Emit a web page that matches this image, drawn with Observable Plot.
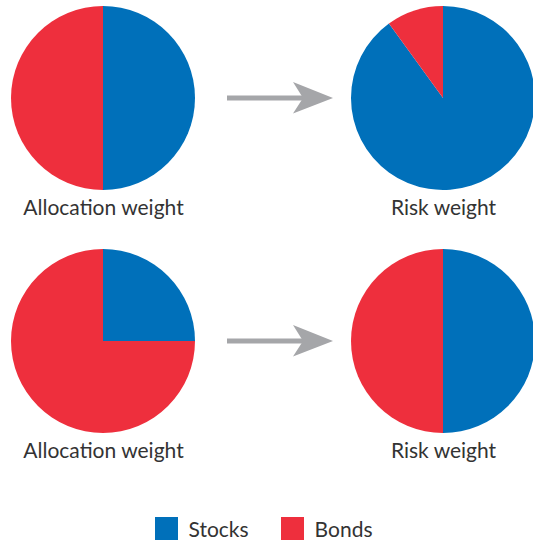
<!DOCTYPE html>
<html>
<head>
<meta charset="utf-8">
<script src="https://cdn.jsdelivr.net/npm/d3@7"></script>
<script src="https://cdn.jsdelivr.net/npm/@observablehq/plot@0.6"></script>
<style>
  html, body { margin: 0; padding: 0; background: #fff; }
  #chart { width: 533px; font-family: "Source Sans Pro", Lato, sans-serif; }
</style>
</head>
<body>
<div id="chart"></div>
<script>
const categories = ["Stocks", "Bonds"];
const colors = ["#0070ba", "#ee2f3d"];
const panelLabels = ["Allocation weight", "Risk weight", "Allocation weight", "Risk weight"];
const panelColumn = ["Allocation", "Risk", "Allocation", "Risk"];
const panelRow = ["Top", "Top", "Bottom", "Bottom"];
const stockWeights = [50, 90, 25, 50];
const bondWeights = [50, 10, 75, 50];
const arrowRows = ["Top", "Bottom"];

const panels = panelLabels.map((label, i) => ({
  label, col: panelColumn[i], row: panelRow[i], values: [stockWeights[i], bondWeights[i]]
}));

const radius = 92;
const font = "Lato, sans-serif";

function pieMark(index, scales) {
  const g = d3.create("svg:g");
  const pie = d3.pie().sort(null).value(d => d);
  const arc = d3.arc().innerRadius(0).outerRadius(radius);
  for (const p of panels) {
    const cx = scales.x(p.col), cy = scales.y(p.row);
    const gg = g.append("g").attr("transform", `translate(${cx},${cy})`);
    pie(p.values).forEach((a, j) => {
      if (a.endAngle - a.startAngle <= 0) return;
      gg.append("path").attr("d", arc(a)).attr("fill", colors[j]);
    });
  }
  return g.node();
}

function arrowMark(index, scales) {
  const g = d3.create("svg:g").attr("fill", "#a5a6a9");
  const x0 = scales.x("Allocation") + 124;
  const tip = scales.x("Risk") - 110;
  for (const r of arrowRows) {
    const y = scales.y(r);
    const back = tip - 40, notch = tip - 30;
    g.append("rect").attr("x", x0).attr("y", y - 2.5).attr("width", notch - x0 + 1).attr("height", 5);
    g.append("path").attr("d", `M${tip},${y}L${back},${y - 16}L${notch},${y}L${back},${y + 15.5}Z`);
  }
  return g.node();
}

const plot = Plot.plot({
  width: 533,
  height: 505,
  margin: 0,
  style: { fontFamily: font, background: "#fff", overflow: "visible" },
  x: { type: "point", domain: ["Allocation", "Risk"], range: [103, 443], padding: 0, axis: null },
  y: { type: "point", domain: ["Top", "Bottom"], range: [98, 341], padding: 0, axis: null },
  marks: [
    Plot.text(panels, { x: "col", y: "row", text: "label", dy: 110, fontSize: 21, fill: "#333", fontFamily: font }),
    pieMark,
    arrowMark
  ]
});

const legend = Plot.legend({
  color: { type: "ordinal", domain: categories, range: colors },
  swatchSize: 23,
  style: { fontFamily: font, fontSize: "21px", color: "#333" }
});
legend.style.display = "flex";
legend.style.justifyContent = "center";
legend.style.alignItems = "center";
legend.style.margin = "12px 0 0 0";
legend.style.minHeight = "23px";
legend.style.height = "23px";
legend.style.lineHeight = "23px";
legend.style.paddingRight = "6px";
legend.style.overflow = "visible";
legend.querySelectorAll("span").forEach(s => { s.style.marginRight = "32px"; s.style.marginLeft = "0"; s.style.lineHeight = "23px"; });
legend.querySelectorAll("span:last-child").forEach(s => { s.style.marginRight = "0"; });
legend.querySelectorAll("svg").forEach(s => { s.style.marginRight = "11px"; });

const chart = document.getElementById("chart");
chart.appendChild(plot);
chart.appendChild(legend);
</script>
</body>
</html>
